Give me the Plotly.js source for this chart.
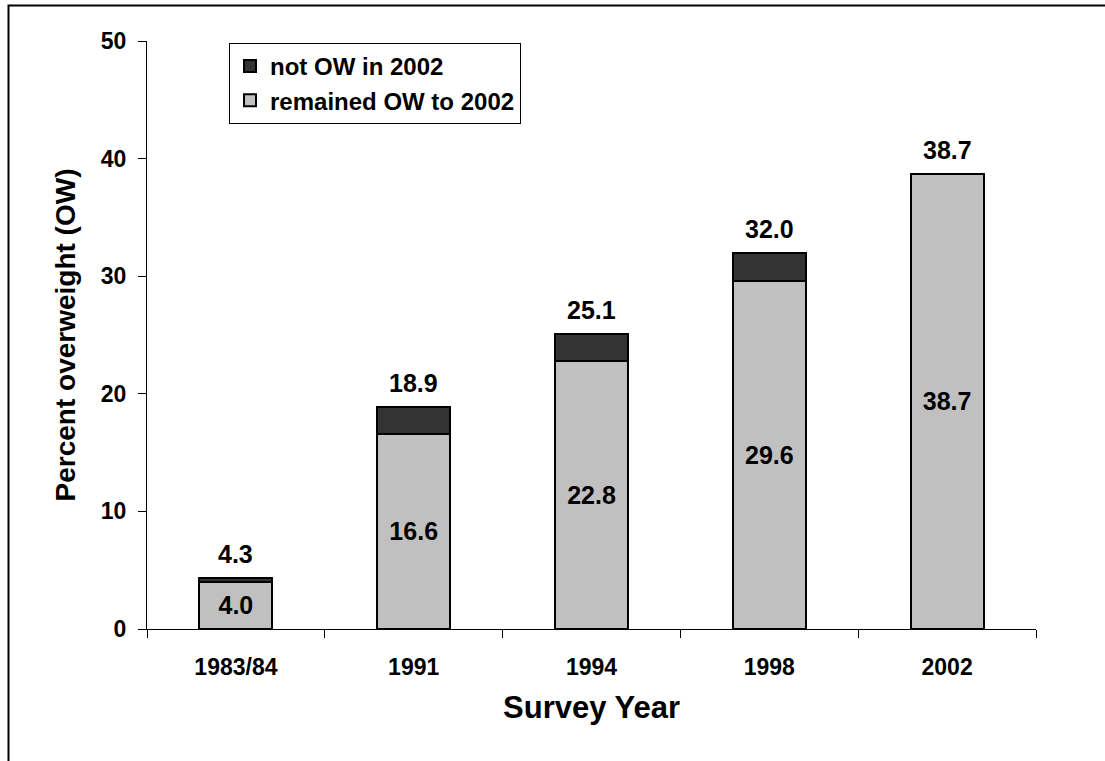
<!DOCTYPE html>
<html>
<head>
<meta charset="utf-8">
<script src="https://cdn.plot.ly/plotly-3.0.1.min.js"></script>
<style>
  html, body { margin: 0; padding: 0; background: #ffffff; }
  #chart { width: 1105px; height: 761px; }
</style>
</head>
<body>
<div id="chart"></div>
<script>
// Survey years (category axis labels)
const surveyYears = ['1983/84', '1991', '1994', '1998', '2002'];
// Percent overweight in each survey year (bar totals)
const totalOW = [4.3, 18.9, 25.1, 32.0, 38.7];
// Share of those that remained overweight through 2002
const remainedOW = [4.0, 16.6, 22.8, 29.6, 38.7];
// Share no longer overweight by 2002 (difference of the two)
const notOW = totalOW.map((t, i) => +(t - remainedOW[i]).toFixed(1));

// Bars sit at slots 0..n-1; tick marks go on the slot boundaries
const slots = surveyYears.map((_, i) => i);
const boundaries = surveyYears.map((_, i) => i - 0.5).concat([surveyYears.length - 0.5]);

const FONT = 'Liberation Sans, Arial, sans-serif';

const remainedTrace = {
  type: 'bar',
  name: 'remained OW to 2002',
  x: slots,
  y: remainedOW,
  marker: { color: '#c0c0c0', line: { color: '#000000', width: 2 } },
  text: remainedOW.map(v => v.toFixed(1)),
  textposition: 'inside',
  insidetextanchor: 'middle',
  constraintext: 'none',
  textangle: 0,
  textfont: { family: FONT, size: 25, color: '#000000', weight: 'bold' },
  hoverinfo: 'y'
};

const notTrace = {
  type: 'bar',
  name: 'not OW in 2002',
  x: slots,
  y: notOW,
  marker: { color: '#333333', line: { color: '#000000', width: 2 } },
  textposition: 'none',
  hoverinfo: 'y'
};

// Total labels above each stacked bar
const totalLabels = slots.map(i => ({
  x: i,
  y: totalOW[i],
  xref: 'x',
  yref: 'y',
  text: totalOW[i].toFixed(1),
  showarrow: false,
  yanchor: 'bottom',
  yshift: 8,
  font: { family: FONT, size: 25, color: '#000000', weight: 'bold' }
}));

// Plot-area edges in pixels
const L = 147, R = 1036, T = 41, B = 629;
const px2x = p => (p - L) / (R - L);
const px2y = p => (B - p) / (B - T);

const layout = {
  width: 1105,
  height: 761,
  margin: { l: L, r: 1105 - R, t: T, b: 761 - B, pad: 0 },
  paper_bgcolor: '#ffffff',
  plot_bgcolor: '#ffffff',
  font: { family: FONT, color: '#000000', weight: 'bold' },
  barmode: 'stack',
  bargap: 0.59,
  showlegend: true,
  legend: {
    x: px2x(229),
    y: px2y(43),
    xanchor: 'left',
    yanchor: 'top',
    bgcolor: '#ffffff',
    bordercolor: '#000000',
    borderwidth: 1,
    font: { family: FONT, size: 24, color: '#000000', weight: 'bold' },
    traceorder: 'reversed'
  },
  xaxis: {
    range: [-0.5, surveyYears.length - 0.5],
    tickvals: slots,
    ticktext: surveyYears,
    ticks: '',
    ticklabelstandoff: 17,
    minor: {
      tickvals: boundaries,
      ticks: 'outside',
      ticklen: 8,
      tickcolor: '#000000',
      tickwidth: 1,
      showgrid: false
    },
    showline: true,
    linecolor: '#000000',
    linewidth: 1,
    showgrid: false,
    zeroline: false,
    fixedrange: true,
    tickfont: { family: FONT, size: 23, color: '#000000', weight: 'bold' },
    title: {
      text: 'Survey Year',
      font: { family: FONT, size: 31, color: '#000000', weight: 'bold' },
      standoff: 17
    }
  },
  yaxis: {
    range: [0, 50],
    dtick: 10,
    showline: true,
    linecolor: '#000000',
    linewidth: 1,
    ticks: 'outside',
    ticklen: 8,
    tickcolor: '#000000',
    tickwidth: 1,
    ticklabelstandoff: 7,
    showgrid: false,
    zeroline: false,
    tickfont: { family: FONT, size: 23, color: '#000000', weight: 'bold' },
    title: {
      text: 'Percent overweight (OW)',
      font: { family: FONT, size: 28, color: '#000000', weight: 'bold' },
      standoff: 17
    }
  },
  annotations: totalLabels,
  shapes: [{
    type: 'rect',
    xref: 'paper', yref: 'paper',
    x0: px2x(8.5), x1: px2x(1120),
    y0: px2y(780), y1: px2y(5.5),
    line: { color: '#000000', width: 2 },
    fillcolor: 'rgba(0,0,0,0)',
    layer: 'above'
  }]
};

Plotly.newPlot('chart', [remainedTrace, notTrace], layout, { displayModeBar: false, staticPlot: true });
</script>
</body>
</html>
